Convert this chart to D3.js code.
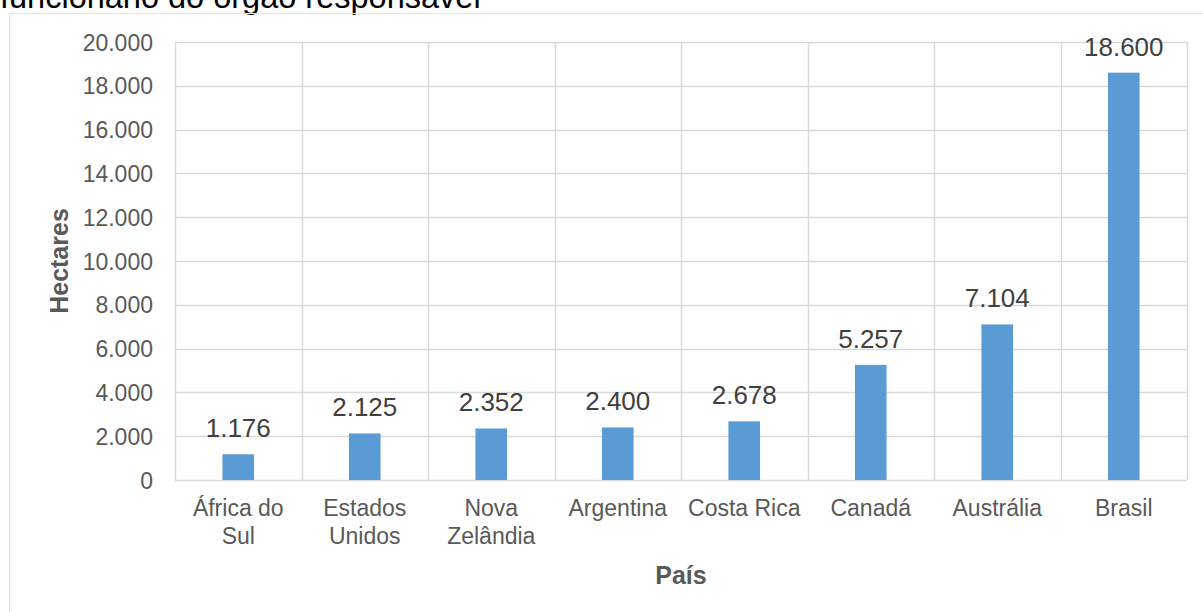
<!DOCTYPE html>
<html>
<head>
<meta charset="utf-8">
<script src="https://cdn.jsdelivr.net/npm/d3@7/dist/d3.min.js"></script>
<style>
  html, body { margin: 0; padding: 0; background: #fff; }
  svg { display: block; font-family: "Liberation Sans", Arial, sans-serif; }
</style>
</head>
<body>
<svg id="chart" width="1203" height="612"></svg>
<script>
// Área (hectares) por país
const paises = ["África do Sul", "Estados Unidos", "Nova Zelândia", "Argentina", "Costa Rica", "Canadá", "Austrália", "Brasil"];
const rotulosPais = [["África do", "Sul"], ["Estados", "Unidos"], ["Nova", "Zelândia"], ["Argentina"], ["Costa Rica"], ["Canadá"], ["Austrália"], ["Brasil"]];
const hectares = [1176, 2125, 2352, 2400, 2678, 5257, 7104, 18600];
const ticksY = [0, 2000, 4000, 6000, 8000, 10000, 12000, 14000, 16000, 18000, 20000];

const svg = d3.select("#chart");
const m = { left: 175, right: 1187, top: 42, bottom: 480 };

const fmt = d3.formatLocale({ decimal: ",", thousands: ".", grouping: [3], currency: ["R$", ""] }).format(",d");

// Texto acima do quadro
svg.append("text")
  .attr("x", 0).attr("y", 8)
  .attr("font-size", 32.5).attr("fill", "#000")
  .text("funcionário do órgão responsável");

// Moldura do gráfico
svg.append("rect")
  .attr("x", 9.5).attr("y", 13.5)
  .attr("width", 1210).attr("height", 620)
  .attr("fill", "none").attr("stroke", "#E3E3E3").attr("stroke-width", 1);

const x = d3.scaleBand().domain(paises).range([m.left, m.right]).padding(0);
const y = d3.scaleLinear().domain([0, 20000]).range([m.bottom, m.top]);

// Linhas de grade horizontais
svg.append("g").selectAll("line").data(ticksY).join("line")
  .attr("x1", m.left).attr("x2", m.right)
  .attr("y1", d => Math.round(y(d)) + 0.5).attr("y2", d => Math.round(y(d)) + 0.5)
  .attr("stroke", "#D9D9D9").attr("stroke-width", 1.5);

// Linhas de grade verticais (limites das categorias)
const bordas = paises.map(p => x(p)).concat([m.right]);
svg.append("g").selectAll("line").data(bordas).join("line")
  .attr("x1", d => Math.round(d) + 0.5).attr("x2", d => Math.round(d) + 0.5)
  .attr("y1", m.top).attr("y2", m.bottom)
  .attr("stroke", "#D9D9D9").attr("stroke-width", 1.5);

// Eixo Y
const eixoY = svg.append("g")
  .attr("transform", `translate(${m.left - 22},0)`)
  .call(d3.axisLeft(y).tickValues(ticksY).tickFormat(fmt).tickSize(0).tickPadding(0));
eixoY.select(".domain").remove();
eixoY.selectAll("text")
  .attr("font-size", 23).attr("fill", "#595959")
  .attr("font-family", "Liberation Sans, Arial, sans-serif")
  .attr("dy", "0.35em");

// Barras
const bw = x.bandwidth() * 0.25;
svg.append("g").selectAll("rect").data(hectares).join("rect")
  .attr("x", (d, i) => x(paises[i]) + x.bandwidth() / 2 - bw / 2)
  .attr("y", d => y(d))
  .attr("width", bw)
  .attr("height", d => y(0) - y(d))
  .attr("fill", "#5B9BD5");

// Rótulos de valores
svg.append("g").selectAll("text").data(hectares).join("text")
  .attr("x", (d, i) => x(paises[i]) + x.bandwidth() / 2)
  .attr("y", d => y(d) - 17)
  .attr("text-anchor", "middle")
  .attr("font-size", 26).attr("fill", "#404040")
  .text(d => fmt(d));

// Eixo X: nomes dos países
const eixoX = svg.append("g")
  .attr("transform", `translate(0,${m.bottom})`)
  .call(d3.axisBottom(x).tickSize(0).tickFormat(""));
eixoX.select(".domain").remove();
eixoX.selectAll(".tick").each(function (p, i) {
  const t = d3.select(this).append("text")
    .attr("text-anchor", "middle")
    .attr("font-size", 23).attr("fill", "#595959")
    .attr("font-family", "Liberation Sans, Arial, sans-serif");
  rotulosPais[i].forEach((linha, k) => {
    t.append("tspan").attr("x", 0).attr("y", 36 + k * 28).text(linha);
  });
});

// Títulos dos eixos
svg.append("text")
  .attr("x", (m.left + m.right) / 2).attr("y", 584)
  .attr("text-anchor", "middle")
  .attr("font-size", 25).attr("font-weight", "bold").attr("fill", "#595959")
  .text("País");

svg.append("text")
  .attr("transform", `translate(68,${(m.top + m.bottom) / 2}) rotate(-90)`)
  .attr("text-anchor", "middle")
  .attr("font-size", 25).attr("font-weight", "bold").attr("fill", "#595959")
  .text("Hectares");
</script>
</body>
</html>
